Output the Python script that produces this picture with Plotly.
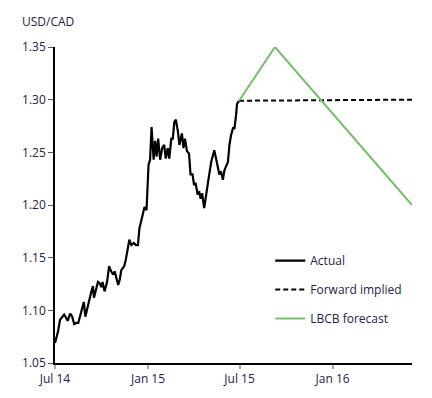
import plotly.graph_objects as go

actual_dates = [
    "2014-07-01","2014-07-03","2014-07-07","2014-07-11","2014-07-15","2014-07-19","2014-07-23","2014-07-26",
    "2014-07-31","2014-08-04","2014-08-08","2014-08-12","2014-08-16","2014-08-19","2014-08-23","2014-08-27",
    "2014-08-30","2014-09-02","2014-09-07","2014-09-11","2014-09-14","2014-09-16","2014-09-20","2014-09-24",
    "2014-09-27","2014-10-01","2014-10-03","2014-10-07","2014-10-12","2014-10-16","2014-10-20","2014-10-24",
    "2014-10-27","2014-10-30","2014-11-03","2014-11-06","2014-11-09","2014-11-12","2014-11-15","2014-11-18",
    "2014-11-22","2014-11-25","2014-11-29","2014-12-04","2014-12-08","2014-12-12","2014-12-15","2014-12-18",
    "2014-12-22","2014-12-25","2014-12-29",
    "2015-01-02","2015-01-05","2015-01-08","2015-01-12","2015-01-15","2015-01-18","2015-01-21","2015-01-25",
    "2015-01-29","2015-02-02","2015-02-05","2015-02-09","2015-02-12","2015-02-16","2015-02-19","2015-02-22",
    "2015-02-25","2015-03-01","2015-03-04","2015-03-09","2015-03-12","2015-03-15","2015-03-19","2015-03-23",
    "2015-03-26","2015-03-30","2015-04-02","2015-04-05","2015-04-09","2015-04-12","2015-04-15","2015-04-18",
    "2015-04-22","2015-04-26","2015-04-29","2015-05-02","2015-05-06","2015-05-09","2015-05-12","2015-05-16",
    "2015-05-19","2015-05-22","2015-05-25","2015-05-29","2015-06-01","2015-06-04","2015-06-08","2015-06-11",
    "2015-06-14","2015-06-18","2015-06-21","2015-06-24","2015-06-26","2015-06-30"]
actual_vals = [
    1.069,1.072,1.080,1.091,1.093,1.096,1.093,1.090,
    1.097,1.094,1.087,1.088,1.088,1.093,1.101,1.108,
    1.094,1.101,1.110,1.118,1.123,1.112,1.119,1.127,
    1.126,1.122,1.127,1.118,1.127,1.142,1.137,1.134,
    1.137,1.132,1.124,1.129,1.138,1.140,1.142,1.148,
    1.157,1.167,1.162,1.164,1.162,1.162,1.178,1.183,
    1.192,1.198,1.195,
    1.238,1.243,1.274,1.243,1.261,1.246,1.263,1.243,
    1.254,1.257,1.244,1.254,1.244,1.263,1.263,1.279,
    1.281,1.270,1.257,1.268,1.254,1.263,1.251,1.249,
    1.229,1.229,1.219,1.221,1.210,1.213,1.206,1.211,
    1.197,1.210,1.224,1.229,1.241,1.247,1.252,1.243,
    1.236,1.229,1.232,1.224,1.233,1.236,1.241,1.257,
    1.266,1.273,1.273,1.285,1.296,1.299]

forward_dates = ["2015-06-30", "2016-06-06"]
forward_vals = [1.299, 1.300]

forecast_dates = ["2015-06-30", "2015-09-09", "2016-06-06"]
forecast_vals = [1.299, 1.350, 1.200]

tick_dates = ["2014-07-01", "2015-01-01", "2015-07-01", "2016-01-01"]
tick_labels = ["Jul 14", "Jan 15", "Jul 15", "Jan 16"]
y_ticks = [1.05, 1.10, 1.15, 1.20, 1.25, 1.30, 1.35]

txt = "#1f2147"
font = "Open Sans"

fig = go.Figure()
fig.add_trace(go.Scatter(x=actual_dates, y=actual_vals, mode="lines", name="Actual",
                         line=dict(color="black", width=2.2), legendgroup="a"))
fig.add_trace(go.Scatter(x=forward_dates, y=forward_vals, mode="lines", name="Forward implied",
                         line=dict(color="black", width=2, dash="5px,3px"), legendgroup="b"))
fig.add_trace(go.Scatter(x=forecast_dates, y=forecast_vals, mode="lines", name="LBCB forecast",
                         line=dict(color="#76bd6c", width=2), legendgroup="c"))

fig.update_layout(
    width=432, height=398,
    margin=dict(l=47, r=28, t=39, b=43, autoexpand=False),
    paper_bgcolor="white", plot_bgcolor="white",
    font=dict(family=font, size=12, color=txt),
    showlegend=True,
    legend=dict(x=0.603, y=0.37, xanchor="left", yanchor="top", bgcolor="rgba(0,0,0,0)",
                tracegroupgap=10, font=dict(size=12, color=txt)),
    xaxis=dict(range=["2014-07-01", "2016-06-06"], tickvals=tick_dates, ticktext=tick_labels,
               showgrid=False, zeroline=False, showline=True, linecolor="black", linewidth=1.5,
               ticks="outside", ticklen=4, tickcolor="#aaaaaa", tickwidth=1.5,
               tickfont=dict(size=12, color=txt)),
    yaxis=dict(range=[1.05, 1.35], tickvals=y_ticks, tickformat=".2f",
               showgrid=False, zeroline=False, showline=True, linecolor="black", linewidth=1.5,
               ticks="outside", ticklen=5, tickcolor="#555555", tickwidth=1,
               tickfont=dict(size=12, color=txt)),
    annotations=[dict(text="USD/CAD", xref="paper", yref="paper", x=-0.098, y=1.081,
                      xanchor="left", yanchor="middle", showarrow=False,
                      font=dict(size=12, color=txt))],
)

fig.write_html("out.html")
